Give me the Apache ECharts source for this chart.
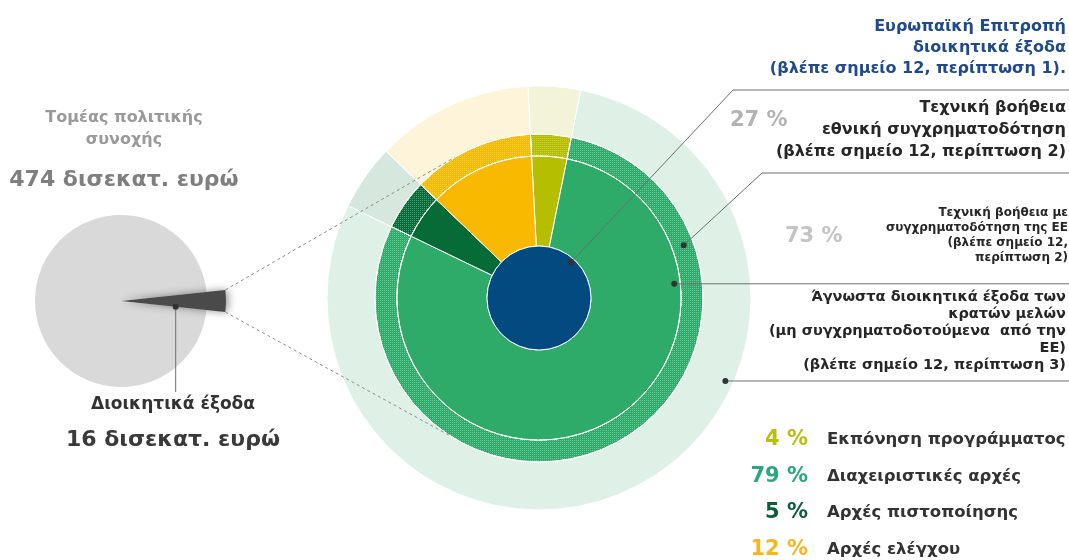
<!DOCTYPE html>
<html>
<head>
<meta charset="utf-8">
<style>
  html, body { margin: 0; padding: 0; background: #fff; }
  #chart { width: 1069px; height: 560px; }
</style>
<script src="https://cdn.jsdelivr.net/npm/echarts@6/dist/echarts.min.js"></script>
</head>
<body>
<div id="chart"></div>
<script>
// data
const bodyNames = ['Εκπόνηση προγράμματος', 'Διαχειριστικές αρχές', 'Αρχές πιστοποίησης', 'Αρχές ελέγχου']
const bodyShares = [4, 79, 5, 12]          // %
const taShares = [27, 73]                  // εθνική / ΕΕ συγχρηματοδότηση, %
const sectorAmounts = [16, 474]            // δισεκατ. ευρώ: διοικητικά έξοδα, τομέας
const sectorPie = [16, 458]                // slice / rest of the 474

const solidColors = ['#b5be00', '#2eaa69', '#066b37', '#f8b900']
const paleColors = ['#f3f3da', '#dff1e6', '#d6e7de', '#fdf4da']
const pctColors = ['#b8bf10', '#27a97a', '#0d5c3b', '#f9b51c']

const FONT = '"DejaVu Sans", sans-serif'
const bigC = [539, 298]
const R = { core: 52, solid: 142, hatch: 164, pale: 212 }
const leftC = [121, 301]
const leftR = 86
const sliceR = 105

const chart = echarts.init(document.getElementById('chart'))

function polar(c, r, deg) {
  const a = deg * Math.PI / 180
  return [c[0] + r * Math.cos(a), c[1] - r * Math.sin(a)]
}

function ring(inner, outer, colors, extra) {
  return {
    type: 'pie',
    center: bigC,
    radius: [inner, outer],
    startAngle: 93,
    clockwise: true,
    silent: true,
    animation: false,
    label: { show: false },
    labelLine: { show: false },
    data: bodyShares.map((v, i) => ({
      name: bodyNames[i],
      value: v,
      itemStyle: Object.assign({ color: colors[i], borderColor: '#fff', borderWidth: 1 }, extra || {})
    }))
  }
}

function txt(x, y, text, font, fill, align) {
  return {
    type: 'text', x: x, y: y, z: 110,
    style: { text: text, font: font, fill: fill, textAlign: align || 'right', textVerticalAlign: 'middle' }
  }
}

function lines(x, y0, step, arr, font, fill, align) {
  return arr.map((t, i) => txt(x, y0 + i * step, t, font, fill, align))
}

function dot(p) {
  return { type: 'circle', z: 120, shape: { cx: p[0], cy: p[1], r: 3 }, style: { fill: '#333' } }
}

function poly(points, dash) {
  return {
    type: 'polyline', z: 105,
    shape: { points: points },
    style: { stroke: dash ? '#8c8c8c' : '#6e6e6e', lineWidth: 1, lineDash: dash ? [3, 3] : null, fill: null }
  }
}

const halfSlice = 180 * sectorPie[0] / (sectorPie[0] + sectorPie[1])

// leader points
const pCore = polar(bigC, 48, 48)
const pHatch = polar(bigC, 154, 20)
const pSolid = polar(bigC, 136, 6)
const pPale = polar(bigC, 204, -24)
const pSlice = polar(leftC, 55, -6)

const graphic = [
  { type: 'circle', z: 100, shape: { cx: bigC[0], cy: bigC[1], r: R.solid }, style: { fill: null, stroke: '#fff', lineWidth: 1, lineDash: [3, 2] } },
  poly([polar(leftC, sliceR, halfSlice), polar(bigC, R.hatch, 121)], true),
  poly([polar(leftC, sliceR, -halfSlice), polar(bigC, R.hatch, 237)], true),

  poly([pCore, [733, 90], [1069, 90]]),
  poly([pHatch, [762, 173], [1069, 173]]),
  poly([pSolid, [1069, pSolid[1]]]),
  poly([pPale, [1069, pPale[1]]]),
  poly([pSlice, [pSlice[0], 392]]),
  dot(pCore), dot(pHatch), dot(pSolid), dot(pPale), dot(pSlice),

  ...lines(1066, 27, 21, ['Ευρωπαϊκή Επιτροπή', 'διοικητικά έξοδα', '(βλέπε σημείο 12, περίπτωση 1).'], 'bold 16px ' + FONT, '#1f4a8c'),
  txt(730, 121, taShares[0] + ' %', 'bold 21px ' + FONT, '#b3b3b3', 'left'),
  ...lines(1066, 108, 22, ['Τεχνική βοήθεια', 'εθνική συγχρηματοδότηση', '(βλέπε σημείο 12, περίπτωση 2)'], 'bold 16px ' + FONT, '#262626'),
  txt(785, 237, taShares[1] + ' %', 'bold 21px ' + FONT, '#c4c4c4', 'left'),
  ...lines(1068, 213, 15, ['Τεχνική βοήθεια με', 'συγχρηματοδότηση της ΕΕ', '(βλέπε σημείο 12,', 'περίπτωση 2)'], 'bold 12px ' + FONT, '#262626'),
  ...lines(1066, 297, 17, ['Άγνωστα διοικητικά έξοδα των', 'κρατών μελών', '(μη συγχρηματοδοτούμενα  από την', 'ΕΕ)', '(βλέπε σημείο 12, περίπτωση 3)'], 'bold 14.5px ' + FONT, '#262626'),

  ...lines(124, 118, 22, ['Τομέας πολιτικής', 'συνοχής'], 'bold 16px ' + FONT, '#9a9a9a', 'center'),
  txt(124, 180, sectorAmounts[1] + ' δισεκατ. ευρώ', 'bold 22px ' + FONT, '#7f7f7f', 'center'),
  txt(173, 405, 'Διοικητικά έξοδα', 'bold 17px ' + FONT, '#333', 'center'),
  txt(173, 440, sectorAmounts[0] + ' δισεκατ. ευρώ', 'bold 22px ' + FONT, '#3a3a3a', 'center')
]

bodyShares.forEach((v, i) => {
  const y = 440 + i * 36.5
  graphic.push(txt(808, y, v + ' %', 'bold 21px ' + FONT, pctColors[i], 'right'))
  graphic.push(txt(827, y, bodyNames[i], 'bold 16.5px ' + FONT, '#333', 'left'))
})

chart.setOption({
  animation: false,
  series: [
    {
      type: 'pie', center: leftC, radius: [0, leftR], startAngle: halfSlice, silent: true,
      label: { show: false }, labelLine: { show: false },
      data: [
        { value: sectorPie[0], itemStyle: { color: 'transparent' } },
        { value: sectorPie[1], itemStyle: { color: '#d9d9d9' } }
      ]
    },
    {
      type: 'pie', center: leftC, radius: [0, sliceR], startAngle: halfSlice, silent: true,
      label: { show: false }, labelLine: { show: false },
      data: [
        { value: sectorPie[0], itemStyle: { color: '#4a4a4a', shadowBlur: 8, shadowColor: 'rgba(0,0,0,0.45)', shadowOffsetX: 2 } },
        { value: sectorPie[1], itemStyle: { color: 'transparent' } }
      ]
    },
    ring(R.hatch, R.pale, paleColors),
    ring(R.solid, R.hatch, solidColors, {
      decal: { symbol: 'rect', symbolSize: 1, color: 'rgba(255,255,255,0.3)', dashArrayX: [1, 1], dashArrayY: [1, 1] }
    }),
    ring(R.core, R.solid, solidColors),
    {
      type: 'pie', center: bigC, radius: [0, R.core], silent: true,
      label: { show: false }, labelLine: { show: false },
      data: [{ value: 1, itemStyle: { color: '#034a80', borderColor: '#fff', borderWidth: 1 } }]
    }
  ],
  graphic: graphic
})
</script>
</body>
</html>
